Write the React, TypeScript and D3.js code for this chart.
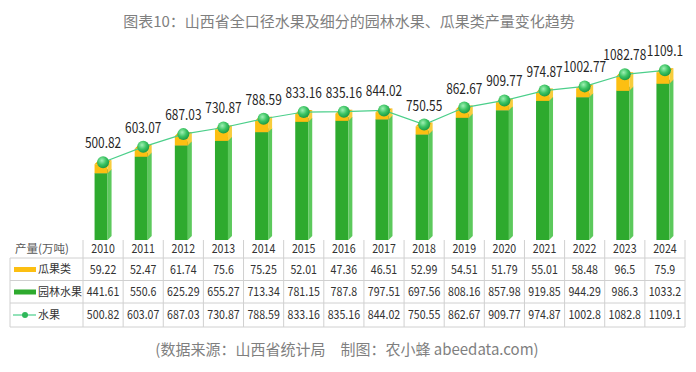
import React from 'react';
import * as d3 from 'd3';

const years = ['2010', '2011', '2012', '2013', '2014', '2015', '2016', '2017', '2018', '2019', '2020', '2021', '2022', '2023', '2024'];
const melon = [59.22, 52.47, 61.74, 75.6, 75.25, 52.01, 47.36, 46.51, 52.99, 54.51, 51.79, 55.01, 58.48, 96.5, 75.9];
const orchard = [441.61, 550.6, 625.29, 655.27, 713.34, 781.15, 787.8, 797.51, 697.56, 808.16, 857.98, 919.85, 944.29, 986.3, 1033.2];
const total = [500.82, 603.07, 687.03, 730.87, 788.59, 833.16, 835.16, 844.02, 750.55, 862.67, 909.77, 974.87, 1002.77, 1082.78, 1109.1];
const totalTable = ['500.82', '603.07', '687.03', '730.87', '788.59', '833.16', '835.16', '844.02', '750.55', '862.67', '909.77', '974.87', '1002.8', '1082.8', '1109.1'];

const FONT = '"Noto Sans CJK SC", "Microsoft YaHei", sans-serif';

export default function App() {
    const width = 696;
    const height = 372;
    const baseY = 240;
    const tableLeft = 10;
    const firstCol = 83;
    const tableRight = 685;
    const rowLines = [258, 280.5, 303, 327];

    const x = d3.scaleBand().domain(years).range([firstCol, tableRight]).paddingInner(0);
    const y = d3.scaleLinear().domain([0, 1200]).range([baseY, baseY - 1200 * 0.1512]);

    const w = 13;
    const dx = 4;
    const dy = 4;

    // one 3D block: front face, right side, top
    const block = (key: string, cx: number, v0: number, v1: number, c: { front: string; side: string; top: string }) => {
        const x0 = cx - (w + dx) / 2;
        const yb = y(v0);
        const yt = y(v1);
        return (
            <g key={key}>
                <rect x={x0} y={yt} width={w} height={yb - yt} fill={c.front} />
                <polygon points={`${x0 + w},${yt} ${x0 + w + dx},${yt - dy} ${x0 + w + dx},${yb - dy} ${x0 + w},${yb}`} fill={c.side} />
                <polygon points={`${x0},${yt} ${x0 + dx},${yt - dy} ${x0 + w + dx},${yt - dy} ${x0 + w},${yt}`} fill={c.top} />
            </g>
        );
    };

    const green = { front: '#2eaa2e', side: '#5cc95c', top: '#1f7d22' };
    const yellow = { front: '#fcbf12', side: '#f7cd3c', top: '#f0b000' };

    const cxOf = (yr: string) => (x(yr) as number) + x.bandwidth() / 2;
    const pts: [number, number][] = years.map((yr, i) => [cxOf(yr), y(total[i]) - dy / 2]);
    const line = d3.line()(pts) as string;

    const rowMid = [249, 269.5, 292, 315];

    // numbers in the reference use a narrow face; squeeze them horizontally
    const num = (key: string, t: string, cx: number, cy: number, size: number, fill: string, sx: number, dyv?: string) => (
        <text key={key} transform={`translate(${cx},${cy}) scale(${sx},1)`} dy={dyv} textAnchor="middle" fontSize={size} fill={fill}>{t}</text>
    );

    return (
        <svg width={width} height={height} style={{ position: 'absolute', left: 0, top: 0, background: '#fff' }} fontFamily={FONT}>
            <defs>
                <radialGradient id="dot" cx="40%" cy="35%" r="65%">
                    <stop offset="0%" stopColor="#9ff0b4" />
                    <stop offset="55%" stopColor="#3cc463" />
                    <stop offset="100%" stopColor="#1c9a45" />
                </radialGradient>
            </defs>
            <text x={349} y={27} textAnchor="middle" fontSize={15} fill="#7f7f7f">图表10：山西省全口径水果及细分的园林水果、瓜果类产量变化趋势</text>

            {years.map((yr, i) => (
                <g key={yr}>
                    {block('g' + yr, cxOf(yr), 0, orchard[i], green)}
                    {block('y' + yr, cxOf(yr), orchard[i], orchard[i] + melon[i], yellow)}
                </g>
            ))}

            <path d={line} fill="none" stroke="#4bcf8a" strokeWidth={1.2} />
            {pts.map((p, i) => (
                <g key={'p' + i}>
                    <circle cx={p[0]} cy={p[1]} r={6} fill="url(#dot)" />
                    {num('l' + i, String(total[i]), p[0], p[1] - 14, 14.5, '#262626', 0.82)}
                </g>
            ))}

            {/* data table */}
            <g stroke="#d0d0d0" strokeWidth={1}>
                {rowLines.map((ly) => (
                    <line key={'h' + ly} x1={tableLeft} x2={tableRight} y1={ly} y2={ly} />
                ))}
                <line x1={tableLeft} x2={tableLeft} y1={rowLines[0]} y2={rowLines[3]} />
                {years.map((yr) => (
                    <line key={'v' + yr} x1={x(yr)} x2={x(yr)} y1={baseY} y2={rowLines[3]} />
                ))}
                <line x1={tableRight} x2={tableRight} y1={baseY} y2={rowLines[3]} />
            </g>

            <text x={15} y={rowMid[0]} dy="0.35em" fontSize={11.5} fill="#595959">产量(万吨)</text>
            <rect x={14} y={rowMid[1] - 2.5} width={22} height={5} fill="#fcbf12" />
            <rect x={14} y={rowMid[2] - 2.5} width={22} height={5} fill="#2eaa2e" />
            <line x1={13} x2={36} y1={rowMid[3]} y2={rowMid[3]} stroke="#4bcf8a" strokeWidth={1.2} />
            <circle cx={25} cy={rowMid[3]} r={3} fill="#2fb85a" />
            <text x={38} y={rowMid[1]} dy="0.35em" fontSize={11} fill="#333">瓜果类</text>
            <text x={38} y={rowMid[2]} dy="0.35em" fontSize={11} fill="#333">园林水果</text>
            <text x={38} y={rowMid[3]} dy="0.35em" fontSize={11} fill="#333">水果</text>

            {years.map((yr, i) => {
                const cx = cxOf(yr);
                const cells = [yr, String(melon[i]), String(orchard[i]), totalTable[i]];
                return cells.map((t, r) => num(yr + r, t, cx, rowMid[r], 12.5, '#333', 0.85, '0.35em'));
            })}

            <text x={347} y={355} textAnchor="middle" fontSize={15} fill="#7f7f7f">(数据来源：山西省统计局　制图：农小蜂 abeedata.com)</text>
        </svg>
    );
}
